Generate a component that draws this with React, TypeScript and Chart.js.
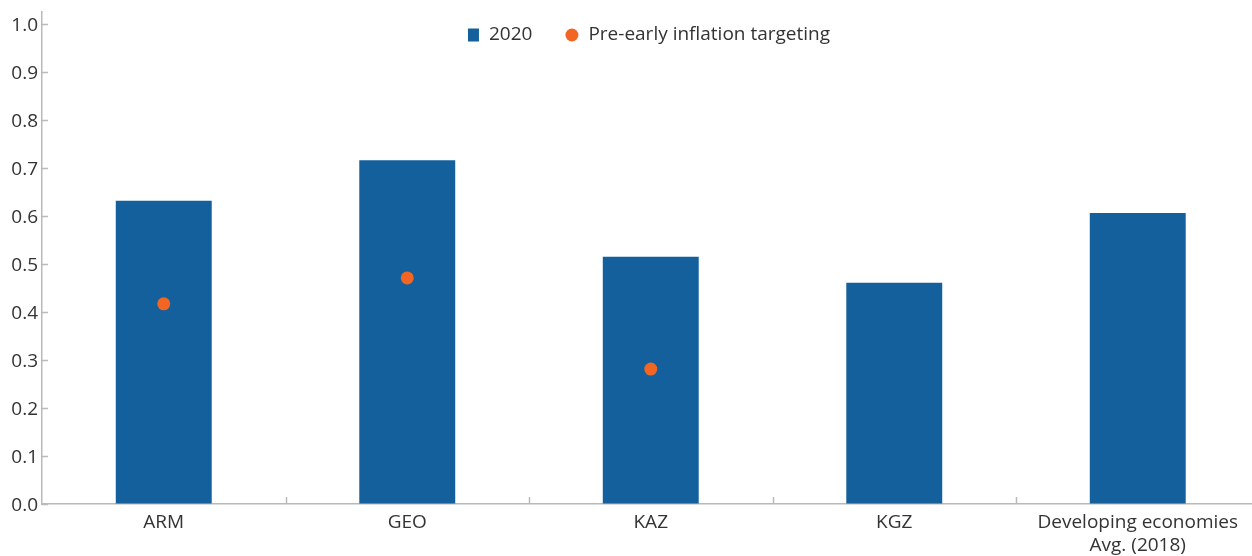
import React, { useEffect, useRef } from "react";
import { Chart, registerables } from "chart.js";

Chart.register(...registerables);

const categories: (string | string[])[] = ["ARM", "GEO", "KAZ", "KGZ", ["Developing economies", "Avg. (2018)"]];
const values2020 = [0.632, 0.716, 0.515, 0.461, 0.606];
const preInflationTargeting: (number | null)[] = [0.417, 0.471, 0.281, null, null];
const yTickValues = [0, 0.1, 0.2, 0.3, 0.4, 0.5, 0.6, 0.7, 0.8, 0.9, 1.0];
const seriesLabels = ["2020", "Pre-early inflation targeting"];

const BLUE = "#14609d";
const ORANGE = "#f26522";
const TEXT = "#333333";
const AXIS = "#b9b9b9";
const FONT = "'Open Sans', Lato, sans-serif";
const CANVAS_W = 1266;

const innerTicks = {
  id: "innerTicks",
  afterDraw(chart: any) {
    const { ctx, chartArea, scales } = chart;
    ctx.save();
    ctx.strokeStyle = AXIS;
    ctx.lineWidth = 1.5;
    const y = scales.y;
    y.ticks.forEach((_t: any, i: number) => {
      const py = Math.round(y.getPixelForTick(i)) + 0.5;
      ctx.beginPath();
      ctx.moveTo(chartArea.left, py);
      ctx.lineTo(chartArea.left + 6, py);
      ctx.stroke();
    });
    const x = scales.x;
    for (let i = 1; i < x.ticks.length; i++) {
      const px = Math.round((x.getPixelForTick(i - 1) + x.getPixelForTick(i)) / 2) + 0.5;
      ctx.beginPath();
      ctx.moveTo(px, chartArea.bottom);
      ctx.lineTo(px, chartArea.bottom - 7);
      ctx.stroke();
    }
    ctx.restore();
  },
};

const customLegend = {
  id: "customLegend",
  afterDraw(chart: any) {
    const { ctx } = chart;
    ctx.save();
    ctx.font = `19px ${FONT}`;
    ctx.textBaseline = "middle";
    ctx.fillStyle = TEXT;
    const gapMarker = 10;
    const gapItems = 33;
    const widths = seriesLabels.map((l) => ctx.measureText(l).width);
    const total = widths.reduce((a, b) => a + b, 0) + 11 + 13 + 2 * gapMarker + gapItems;
    let x = 649 - total / 2;
    const cy = 35;
    ctx.fillStyle = BLUE;
    ctx.fillRect(x, cy - 6.5, 11, 13);
    x += 11 + gapMarker;
    ctx.fillStyle = TEXT;
    ctx.fillText(seriesLabels[0], x, cy);
    x += widths[0] + gapItems;
    ctx.fillStyle = ORANGE;
    ctx.beginPath();
    ctx.arc(x + 6.5, cy, 6.5, 0, Math.PI * 2);
    ctx.fill();
    x += 13 + gapMarker;
    ctx.fillStyle = TEXT;
    ctx.fillText(seriesLabels[1], x, cy);
    ctx.restore();
  },
};

export default function App() {
  const ref = useRef<HTMLCanvasElement>(null);
  useEffect(() => {
    document.body.style.overflow = "hidden";
    const chart = new Chart(ref.current!, {
      type: "bar",
      data: {
        labels: categories as any,
        datasets: [
          {
            type: "bar",
            label: seriesLabels[0],
            data: values2020,
            backgroundColor: BLUE,
            categoryPercentage: 1,
            barPercentage: 0.394,
            order: 2,
          },
          {
            type: "line",
            label: seriesLabels[1],
            data: preInflationTargeting as any,
            showLine: false,
            pointRadius: 6.5,
            pointHoverRadius: 6.5,
            pointBackgroundColor: ORANGE,
            pointBorderWidth: 0,
            borderColor: ORANGE,
            order: 1,
          },
        ],
      },
      options: {
        responsive: false,
        animation: false,
        layout: { padding: { top: 12, left: 0, right: 2.5, bottom: 0 } },
        plugins: { legend: { display: false }, tooltip: { enabled: false } },
        scales: {
          x: {
            offset: true,
            grid: { drawOnChartArea: false, drawTicks: false, offset: true },
            border: { color: AXIS, width: 1.5 },
            ticks: {
              color: TEXT,
              font: { family: FONT, size: 19 },
              padding: 7,
              maxRotation: 0,
              autoSkip: false,
            },
            afterFit: (s: any) => {
              s.height = 52;
              s.paddingLeft = 0;
              s.paddingRight = 0;
            },
          },
          y: {
            min: 0,
            max: 1.025,
            grid: { drawOnChartArea: false, drawTicks: false },
            border: { color: AXIS, width: 1.5 },
            ticks: {
              color: TEXT,
              font: { family: FONT, size: 19 },
              padding: 4,
              labelOffset: 1.5,
              callback: (v: any) => Number(v).toFixed(1),
            },
            afterBuildTicks: (s: any) => {
              s.ticks = yTickValues.map((v) => ({ value: v }));
            },
            afterFit: (s: any) => {
              s.width = 42;
              s.paddingTop = 0;
              s.paddingBottom = 0;
            },
          },
        },
      },
      plugins: [innerTicks, customLegend],
    });
    return () => chart.destroy();
  }, []);
  return (
    <div style={{ position: "absolute", left: 0, top: 0, width: CANVAS_W, height: 556 }}>
      <canvas ref={ref} width={CANVAS_W} height={556} />
    </div>
  );
}
